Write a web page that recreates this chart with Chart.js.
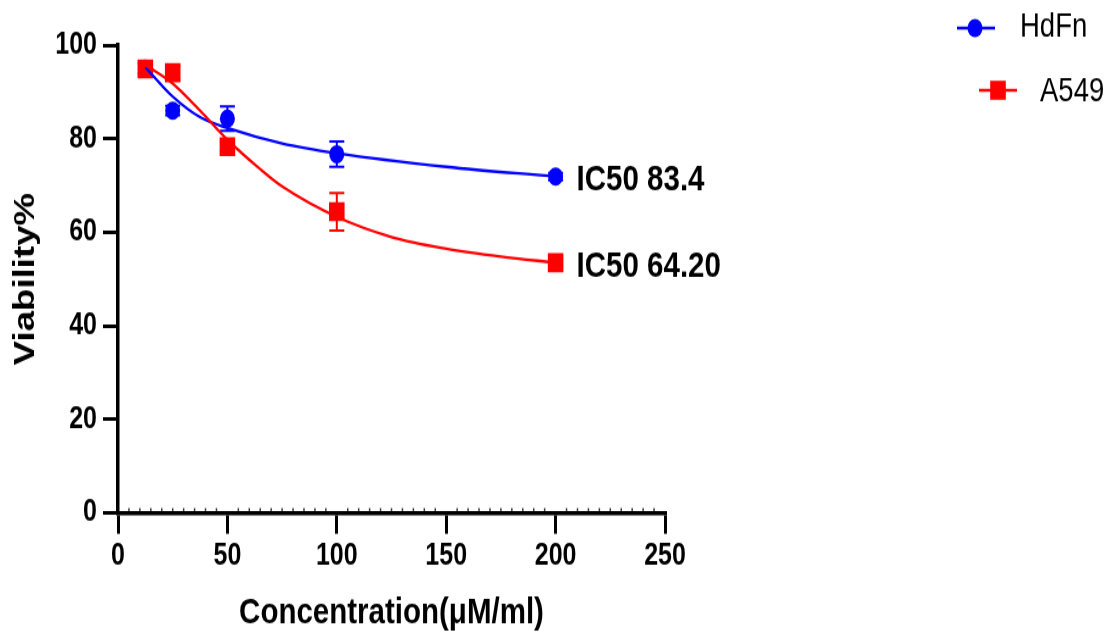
<!DOCTYPE html>
<html>
<head>
<meta charset="utf-8">
<script src="https://cdn.jsdelivr.net/npm/chart.js@4.4.1/dist/chart.umd.min.js"></script>
<style>
  html, body { margin: 0; padding: 0; background: #fff; overflow: hidden; }
</style>
</head>
<body>
<!-- the original figure is stretched vertically: 519px bitmap shown 633px tall -->
<canvas id="viabilityChart" width="1110" height="519" style="display:block;width:1110px;height:633px"></canvas>
<script>
// concentrations (uM/ml) and measured viability
const concentrations = [12.5, 25, 50, 100, 200];
const hdfnMean = [95.0, 86.0, 84.3, 76.7, 71.9];
const hdfnSd = [1.0, 1.0, 2.6, 2.7, 0.8];
const a549Mean = [94.9, 94.1, 78.3, 64.4, 53.5];
const a549Sd = [1.2, 1.5, 1.0, 4.0, 0.8];

// fitted curves
const hdfnFitX = [12.5, 25, 37.5, 50, 75, 100, 150, 200];
const hdfnFitY = [95.3, 89.0, 84.6, 82.3, 79.0, 76.9, 74.0, 71.9];
const a549FitX = [12.5, 25, 37.5, 50, 65, 75, 100, 125, 150, 175, 200];
const a549FitY = [95.8, 91.8, 86.0, 79.8, 73.5, 69.8, 63.3, 59.0, 56.5, 54.8, 53.5];

const xTicks = [0, 50, 100, 150, 200, 250];
const yTicks = [0, 20, 40, 60, 80, 100];
const ic50Labels = ["IC50 83.4", "IC50 64.20"];

const BLUE = "#0000ff";
const RED = "#ff0000";
const FONT = '"Liberation Sans", Arial, sans-serif';

function toPoints(xs, ys) {
  return xs.map(function (x, i) { return { x: x, y: ys[i] }; });
}

function drawErrorBars(chart, means, sds, color) {
  const ctx = chart.ctx, xs = chart.scales.x, ys = chart.scales.y;
  ctx.save();
  ctx.strokeStyle = color;
  ctx.lineWidth = 2;
  concentrations.forEach(function (c, i) {
    const px = xs.getPixelForValue(c);
    const top = ys.getPixelForValue(means[i] + sds[i]);
    const bot = ys.getPixelForValue(means[i] - sds[i]);
    ctx.beginPath();
    ctx.moveTo(px, top); ctx.lineTo(px, bot);
    ctx.moveTo(px - 7.5, top); ctx.lineTo(px + 7.5, top);
    ctx.moveTo(px - 7.5, bot); ctx.lineTo(px + 7.5, bot);
    ctx.stroke();
  });
  ctx.restore();
}

const errorBars = {
  id: "errorBars",
  beforeDatasetsDraw: function (chart) {
    drawErrorBars(chart, a549Mean, a549Sd, RED);
    drawErrorBars(chart, hdfnMean, hdfnSd, BLUE);
  }
};

const extras = {
  id: "extras",
  afterDraw: function (chart) {
    const ctx = chart.ctx, xs = chart.scales.x, ys = chart.scales.y;
    const last = concentrations.length - 1;
    ctx.save();

    // minor ticks along the x axis
    ctx.fillStyle = "#333";
    for (let v = xTicks[0] + 5; v < xTicks[xTicks.length - 1]; v += 5) {
      if (v % 50 === 0) continue;
      const px = xs.getPixelForValue(v);
      ctx.fillRect(px - 0.75, chart.chartArea.bottom - 4, 1.5, 2.3);
    }

    // IC50 labels next to the last points
    ctx.fillStyle = "#000";
    ctx.font = "bold 29.5px " + FONT;
    ctx.textBaseline = "middle";
    ctx.textAlign = "left";
    const lastVals = [hdfnMean[last], a549Mean[last]];
    lastVals.forEach(function (v, i) {
      ctx.fillText(ic50Labels[i], xs.getPixelForValue(concentrations[last]) + 21, ys.getPixelForValue(v) + 3);
    });

    // legend (staggered like the original)
    ctx.lineWidth = 2.3;
    ctx.strokeStyle = BLUE;
    ctx.fillStyle = BLUE;
    ctx.beginPath(); ctx.moveTo(957, 23); ctx.lineTo(995, 23); ctx.stroke();
    ctx.beginPath(); ctx.arc(975, 23, 7.5, 0, Math.PI * 2); ctx.fill();
    ctx.strokeStyle = RED;
    ctx.fillStyle = RED;
    ctx.beginPath(); ctx.moveTo(979, 74); ctx.lineTo(1017, 74); ctx.stroke();
    ctx.fillRect(998 - 7.8, 74 - 7.8, 15.6, 15.6);

    ctx.fillStyle = "#000";
    ctx.font = "27.5px " + FONT;
    ctx.fillText("HdFn", 1020, 22);
    ctx.fillText("A549", 1040, 75);
    ctx.restore();
  }
};

const ctx = document.getElementById("viabilityChart").getContext("2d");
const viabilityChart = new Chart(ctx, {
  type: "line",
  data: {
    datasets: [
      {
        label: "A549 fit",
        data: toPoints(a549FitX, a549FitY),
        borderColor: RED,
        borderWidth: 2.3,
        pointRadius: 0,
        cubicInterpolationMode: "monotone",
        fill: false
      },
      {
        label: "HdFn fit",
        data: toPoints(hdfnFitX, hdfnFitY),
        borderColor: BLUE,
        borderWidth: 2.3,
        pointRadius: 0,
        cubicInterpolationMode: "monotone",
        fill: false
      },
      {
        label: "A549",
        data: toPoints(concentrations, a549Mean),
        showLine: false,
        pointStyle: "rect",
        pointRadius: 11,
        backgroundColor: RED,
        borderColor: RED,
        borderWidth: 0
      },
      {
        label: "HdFn",
        data: toPoints(concentrations, hdfnMean),
        showLine: false,
        pointStyle: "circle",
        pointRadius: 7.5,
        backgroundColor: BLUE,
        borderColor: BLUE,
        borderWidth: 0
      }
    ]
  },
  options: {
    responsive: false,
    animation: false,
    devicePixelRatio: 1,
    layout: { padding: { left: 0, top: 37, right: 445, bottom: 0 } },
    plugins: {
      legend: { display: false },
      tooltip: { enabled: false }
    },
    scales: {
      x: {
        type: "linear",
        min: xTicks[0],
        max: xTicks[xTicks.length - 1],
        afterBuildTicks: function (s) { s.ticks = xTicks.map(function (v) { return { value: v }; }); },
        afterFit: function (s) { s.height = 98.4; },
        border: { display: true, color: "#000", width: 3.5 },
        grid: { display: true, drawOnChartArea: false, drawTicks: true, tickLength: 17, color: "#000", lineWidth: 3 },
        ticks: { color: "#000", padding: 4, maxRotation: 0, font: { family: FONT, size: 25, weight: "bold" } },
        title: {
          display: true,
          text: "Concentration(μM/ml)",
          color: "#000",
          padding: { top: 0, bottom: 0 },
          font: { family: FONT, size: 29.5, weight: "bold", lineHeight: 1.1 }
        }
      },
      y: {
        min: yTicks[0],
        max: yTicks[yTicks.length - 1],
        afterBuildTicks: function (s) { s.ticks = yTicks.map(function (v) { return { value: v }; }); },
        afterFit: function (s) { s.width = 118; },
        border: { display: true, color: "#000", width: 3.5 },
        grid: { display: true, drawOnChartArea: false, drawTicks: true, tickLength: 15, color: "#000", lineWidth: 3 },
        ticks: { color: "#000", padding: 6, font: { family: FONT, size: 25, weight: "bold" } },
        title: {
          display: true,
          text: "Viability%",
          color: "#000",
          padding: { top: 8, bottom: 0 },
          font: { family: FONT, size: 30, weight: "bold" }
        }
      }
    }
  },
  plugins: [errorBars, extras]
});
</script>
</body>
</html>
